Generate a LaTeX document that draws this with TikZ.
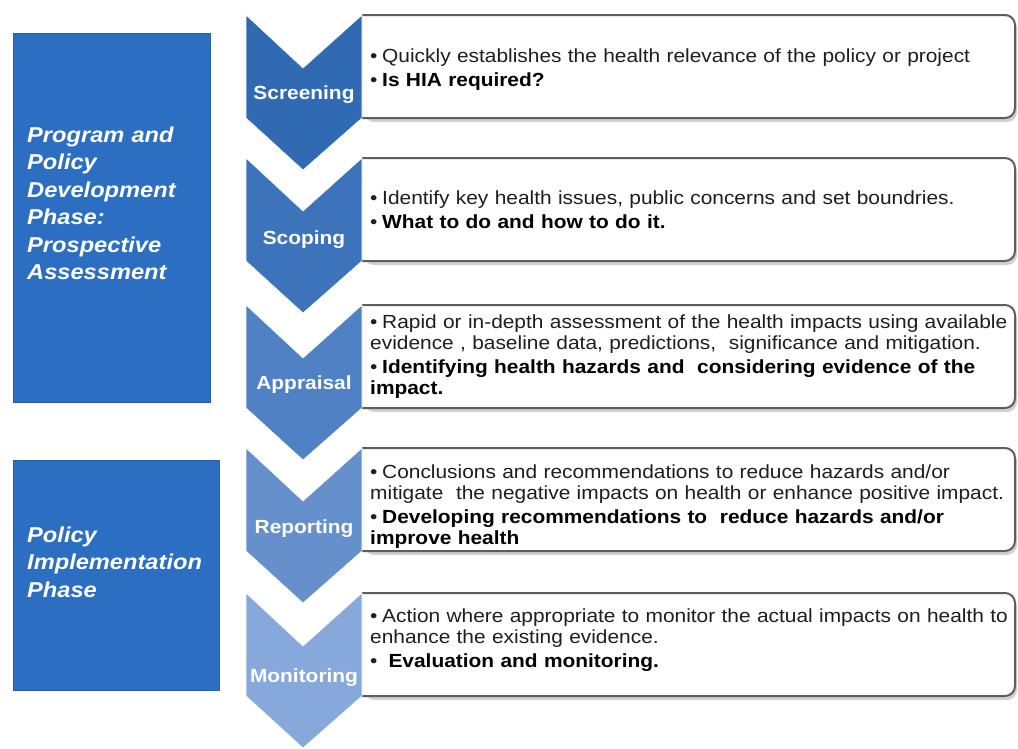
\documentclass[tikz,border=0pt]{standalone}
\usepackage{fontspec}
\setmainfont{Liberation Sans}[FakeStretch=1.1]
\definecolor{phaseblue}{HTML}{2B6EC2}
\definecolor{phaseedge}{HTML}{2660A8}
\definecolor{cA}{HTML}{2F6AB3}
\definecolor{cB}{HTML}{3C73BA}
\definecolor{cC}{HTML}{4F81C4}
\definecolor{cD}{HTML}{6590CC}
\definecolor{cE}{HTML}{87A8DB}
\definecolor{boxline}{HTML}{5A5F66}
\definecolor{bodytext}{HTML}{1E1E1E}
\newcommand{\bul}[1]{\hangindent=12pt\hangafter=1\noindent\makebox[12pt][l]{\textbullet}#1\par}
\begin{document}
\begin{tikzpicture}[x=1pt,y=-1pt,
  phasebox/.style={fill=phaseblue, draw=phaseedge, line width=1},
  phasetext/.style={anchor=base west, inner sep=0, text=white, text width=195, align=left,
    font=\fontsize{21.5}{27.5}\selectfont\bfseries\itshape},
  chevlabel/.style={anchor=base, inner sep=0, text=white,
    font=\fontsize{19}{22}\selectfont\bfseries},
  boxshadow/.style={fill=black, opacity=0.18},
  infobox/.style={fill=white, draw=boxline, line width=2, rounded corners=10},
  bodytxt/.style={anchor=base west, inner sep=0, text width=650, align=left, text=bodytext,
    font=\fontsize{19}{21}\selectfont\setlength{\parskip}{3pt}},
]
\useasboundingbox (0,0) rectangle (1018,748);
\fill[white] (0,0) rectangle (1018,748);

% left phase boxes
\draw[phasebox] (13,33) rectangle (210,402);
\node[phasetext] (p1) at (27,142) {Program and\\Policy\\Development\\Phase:\\Prospective\\Assessment};
\draw[phasebox] (13,460) rectangle (219,690);
\node[phasetext] (p2) at (27,542) {Policy\\Implementation\\Phase};

% info boxes (drawn first) and chevrons
\foreach \t in {15,158,305,448,593}{
  \fill[boxshadow, rounded corners=10] (364,\t+4) -- (1017,\t+4) -- (1017,\t+107) -- (364,\t+107) -- cycle;
  \filldraw[infobox] (362,\t) -- (1015,\t) -- (1015,\t+103) -- (362,\t+103);
}
\foreach \t/\c in {15/cA,158/cB,305/cC,448/cD,593/cE}{
  \fill[\c, draw=white, line width=0.6] (246,\t) -- (303,\t+53) -- (362,\t) -- (362,\t+103) -- (303,\t+155) -- (246,\t+103) -- cycle;
}

\node[chevlabel] (l1) at (304,99) {Screening};
\node[chevlabel] (l2) at (304,244) {Scoping};
\node[chevlabel] (l3) at (304,389) {Appraisal};
\node[chevlabel] (l4) at (304,533) {Reporting};
\node[chevlabel] (l5) at (304,682) {Monitoring};

\node[bodytxt] (t1) at (370,62) {\bul{Quickly establishes the health relevance of the policy or project}\bul{\bfseries\color{black}Is HIA required?}};
\node[bodytxt] (t2) at (370,204) {\bul{Identify key health issues, public concerns and set boundries.}\bul{\bfseries\color{black}What to do and how to do it.}};
\node[bodytxt] (t3) at (370,328) {\bul{Rapid or in-depth assessment of the health impacts using available\\evidence , baseline data, predictions,\ \ significance and mitigation.}\bul{\bfseries\color{black}Identifying health hazards and\ \ considering evidence of the\\impact.}};
\node[bodytxt] (t4) at (370,478) {\bul{Conclusions and recommendations to reduce hazards and/or\\mitigate\ \ the negative impacts on health or enhance positive impact.}\bul{\bfseries\color{black}Developing recommendations to\ \ reduce hazards and/or\\improve health}};
\node[bodytxt] (t5) at (370,622) {\bul{Action where appropriate to monitor the actual impacts on health to\\enhance the existing evidence.}\bul{\bfseries\color{black}\ Evaluation and monitoring.}};
\end{tikzpicture}
\end{document}
